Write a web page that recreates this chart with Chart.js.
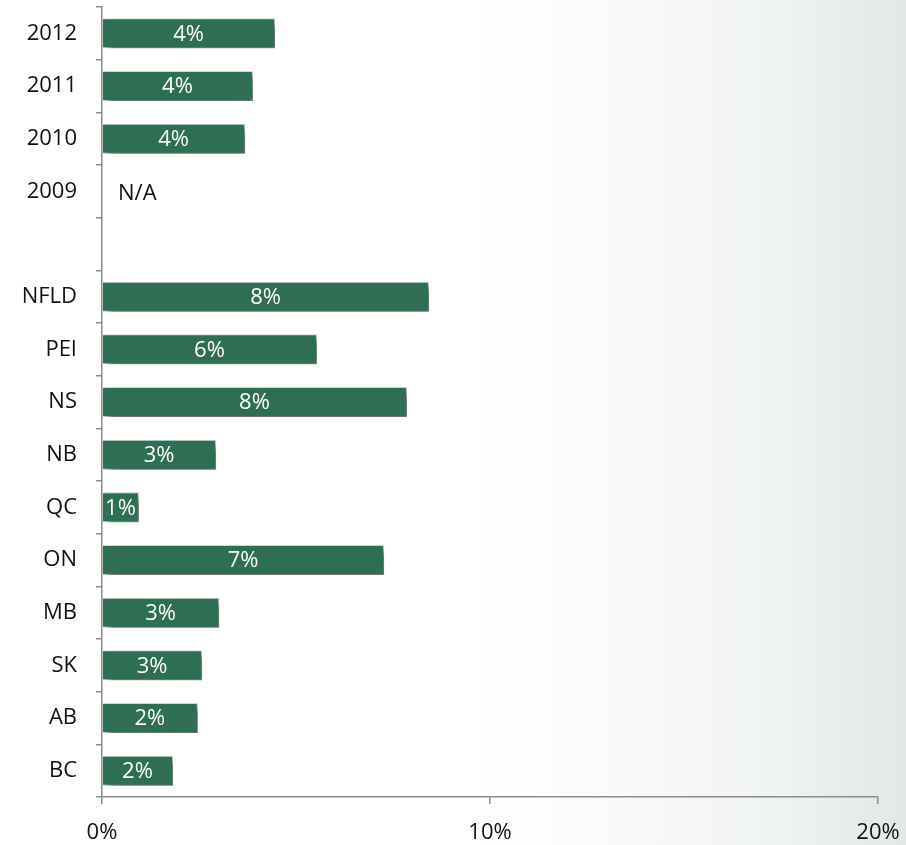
<!DOCTYPE html>
<html>
<head>
<meta charset="utf-8">
<script src="https://cdn.jsdelivr.net/npm/chart.js@4"></script>
<style>
  html, body { margin: 0; padding: 0; }
  body {
    width: 906px; height: 845px; overflow: hidden;
    background: linear-gradient(90deg, #ffffff 0%, #ffffff 52%, #f8faf9 70%, #eff3f1 86%, #e2e8e5 100%);
  }
  #wrap { position: relative; width: 906px; height: 845px; }
</style>
</head>
<body>
<div id="wrap"><canvas id="chart"></canvas></div>
<script>
// Categories, top to bottom: recent years, a spacer row, then provinces
const categories = ['2012', '2011', '2010', '2009', '', 'NFLD', 'PEI', 'NS', 'NB', 'QC', 'ON', 'MB', 'SK', 'AB', 'BC'];
// Share (%) per category; null where no figure exists
const shares = [4.46, 3.89, 3.69, null, null, 8.43, 5.54, 7.86, 2.94, 0.95, 7.27, 3.02, 2.58, 2.47, 1.83];
// Text shown where a category has no figure
const missingText = ['', '', '', 'N/A', '', '', '', '', '', '', '', '', '', '', ''];
// Value axis ticks
const xTicks = [0, 10, 20];

const FONT = "'Open Sans', sans-serif";
const BAR = '#2e6e52';
const AXIS = '#8c8c8c';

// Soft drop shadow under the bars
const barShadow = {
  id: 'barShadow',
  beforeDatasetsDraw(chart) {
    const ctx = chart.ctx;
    ctx.save();
    ctx.shadowColor = 'rgba(0,0,0,0.55)';
    ctx.shadowBlur = 7;
    ctx.shadowOffsetX = 5;
    ctx.shadowOffsetY = 5;
  },
  afterDatasetsDraw(chart) {
    chart.ctx.restore();
  }
};

// Rounded value inside each bar, "N/A" where there is none
const barLabels = {
  id: 'barLabels',
  afterDatasetsDraw(chart) {
    const ctx = chart.ctx;
    const meta = chart.getDatasetMeta(0);
    const xs = chart.scales.x;
    ctx.save();
    ctx.font = '22px ' + FONT;
    ctx.textBaseline = 'middle';
    meta.data.forEach((bar, i) => {
      const v = shares[i];
      if (v === null) {
        if (missingText[i]) {
          ctx.fillStyle = '#111111';
          ctx.textAlign = 'left';
          ctx.fillText(missingText[i], xs.getPixelForValue(0) + 16, bar.y + 2);
        }
        return;
      }
      ctx.fillStyle = '#ffffff';
      ctx.textAlign = 'center';
      const x0 = xs.getPixelForValue(0);
      ctx.fillText(Math.round(v) + '%', (x0 + bar.x) / 2, bar.y + 1);
    });
    ctx.restore();
  }
};

new Chart(document.getElementById('chart'), {
  type: 'bar',
  data: {
    labels: categories,
    datasets: [{
      data: shares,
      backgroundColor: BAR,
      borderColor: 'rgba(160,200,180,0.55)',
      borderWidth: 1,
      categoryPercentage: 1,
      barPercentage: 0.57
    }]
  },
  options: {
    indexAxis: 'y',
    responsive: true,
    maintainAspectRatio: false,
    animation: false,
    layout: { padding: { top: 7, right: 28, left: 0, bottom: 0 } },
    plugins: { legend: { display: false }, tooltip: { enabled: false } },
    scales: {
      y: {
        type: 'category',
        offset: true,
        afterFit(scale) {
          scale.width = 102;
          scale.paddingTop = 0;
          scale.paddingBottom = 0;
        },
        grid: {
          offset: true,
          drawOnChartArea: false,
          drawTicks: true,
          tickLength: 6,
          color: AXIS,
          lineWidth: 1.5
        },
        border: { display: true, color: AXIS, width: 1.5 },
        ticks: {
          color: '#111111',
          font: { family: FONT, size: 22 },
          padding: 19,
          autoSkip: false
        }
      },
      x: {
        min: 0,
        max: 20,
        afterFit(scale) {
          scale.height = 48;
          scale.paddingLeft = 0;
          scale.paddingRight = 0;
        },
        afterBuildTicks(scale) { scale.ticks = xTicks.map(v => ({ value: v })); },
        grid: {
          drawOnChartArea: false,
          drawTicks: true,
          tickLength: 7,
          color: AXIS,
          lineWidth: 1.5
        },
        border: { display: true, color: AXIS, width: 1.5 },
        ticks: {
          color: '#111111',
          font: { family: FONT, size: 22 },
          padding: 16,
          maxRotation: 0,
          callback: v => v + '%'
        }
      }
    }
  },
  plugins: [barShadow, barLabels]
});
</script>
</body>
</html>
